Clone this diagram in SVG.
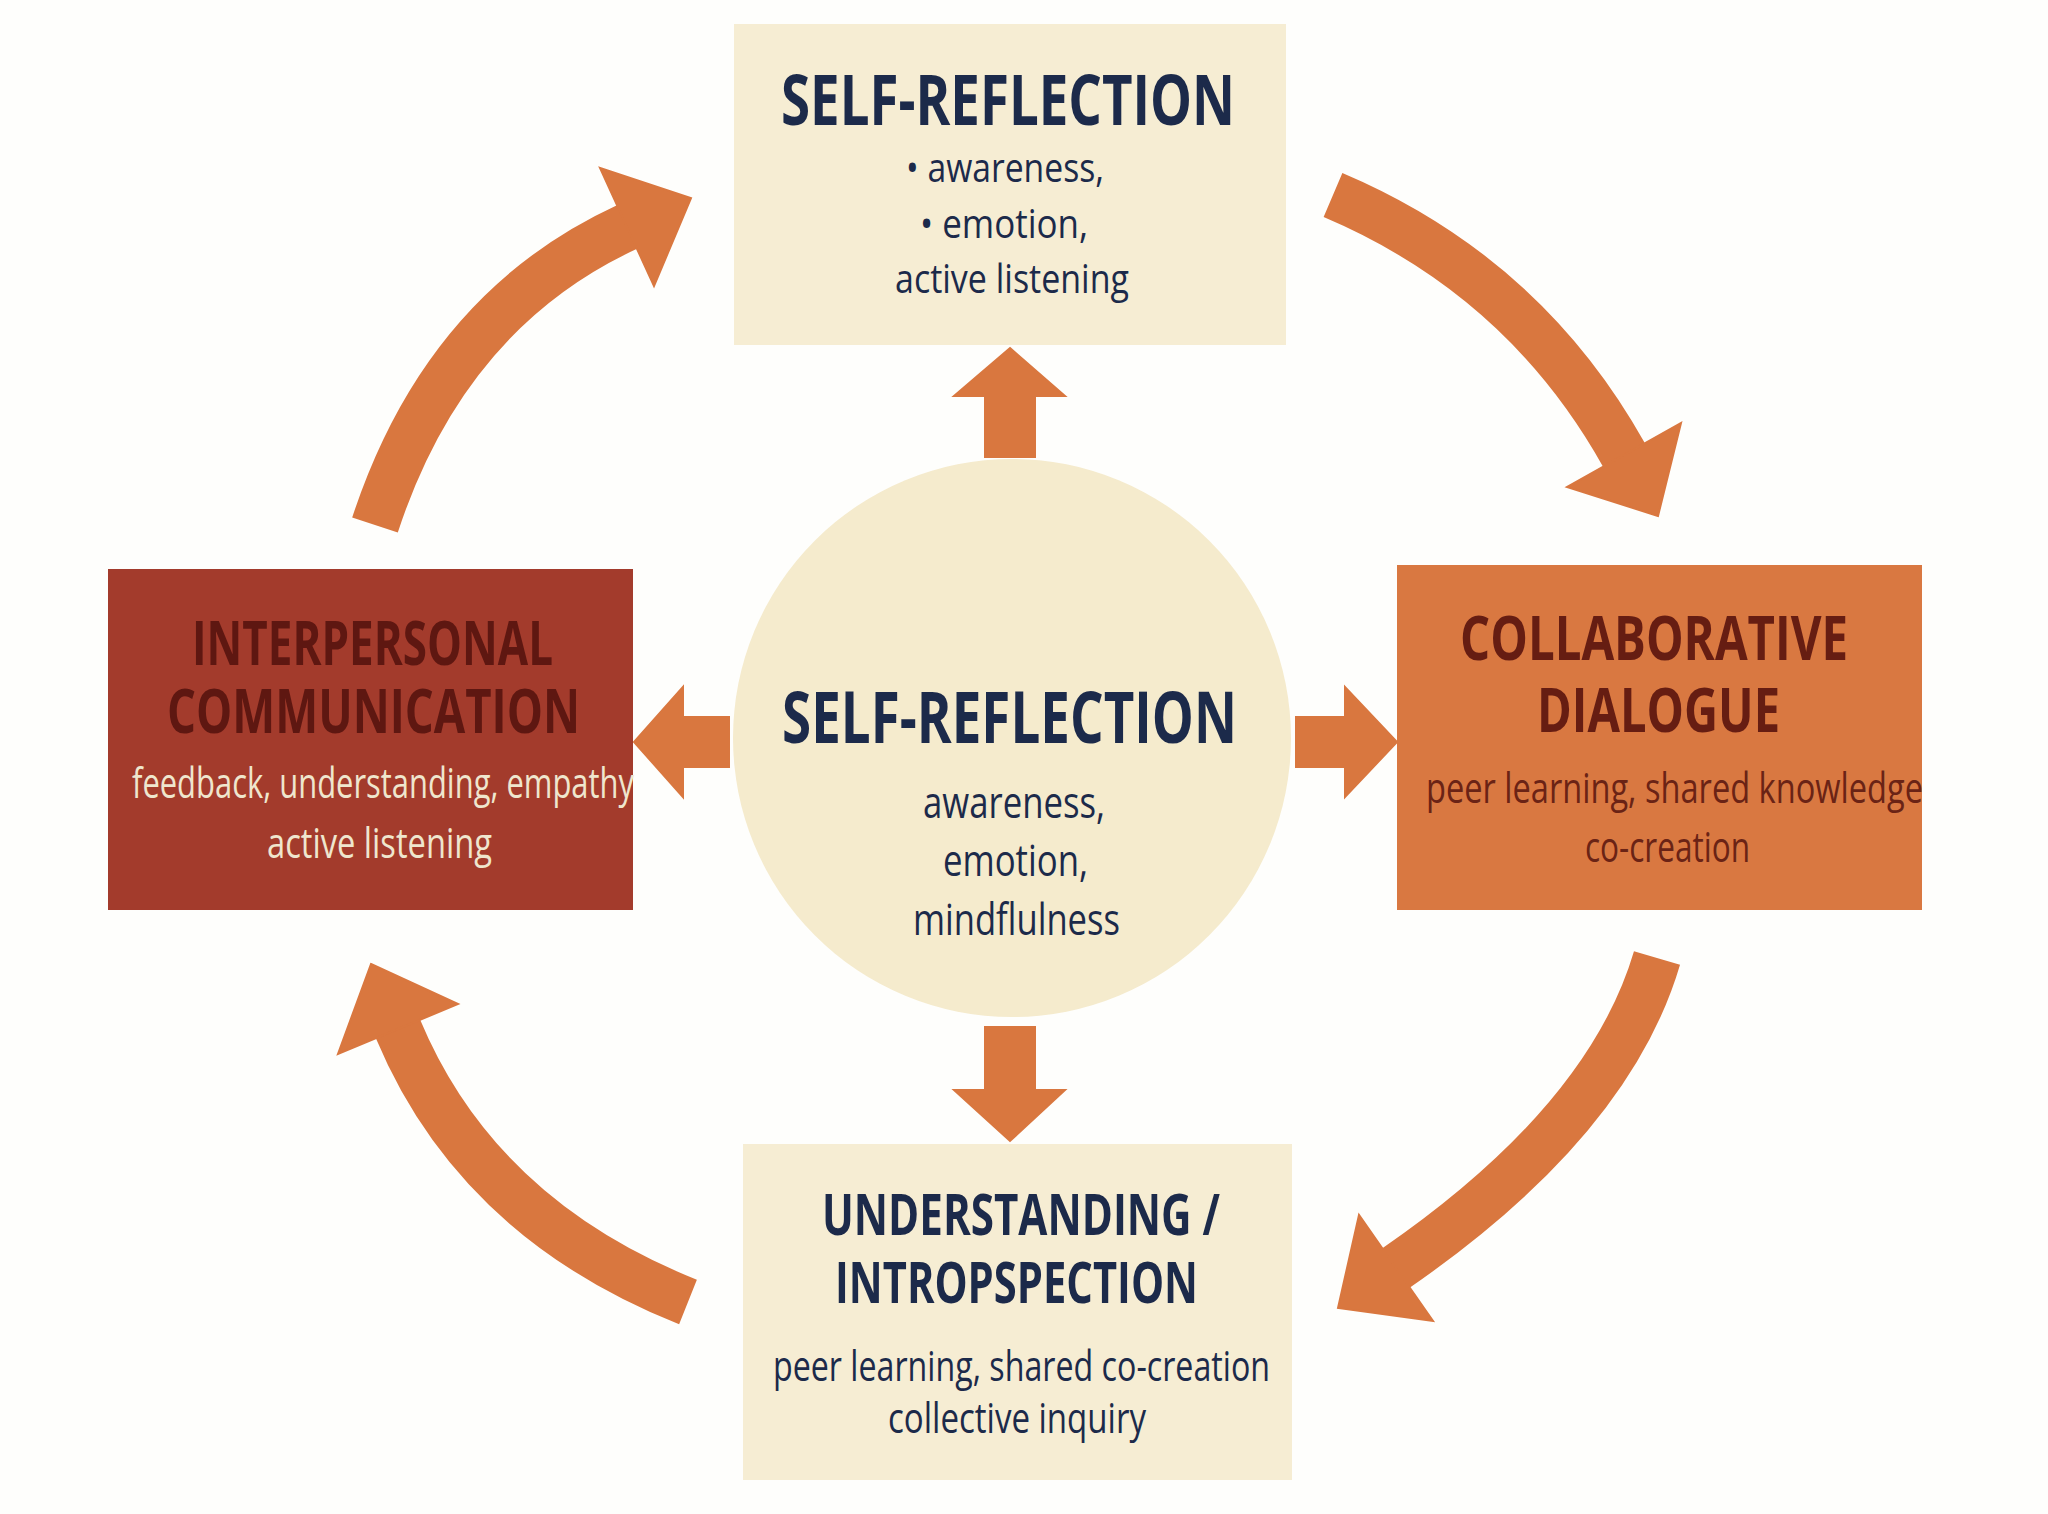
<svg xmlns="http://www.w3.org/2000/svg" width="2048" height="1514" viewBox="0 0 2048 1514">
  <style>
    .bg { fill: #FEFEFC; }
    .cream { fill: #F6EDD3; }
    .circ { fill: #F5EBCD; }
    .red { fill: #A33B2C; }
    .orange { fill: #D97841; }
    .arrowfill { fill: #D9773F; stroke: #D9773F; stroke-width: 2; stroke-linejoin: miter; }
    .arrowline { fill: none; stroke: #D9773F; stroke-width: 48; stroke-linecap: butt; }
    .t { font-family: "Open Sans", "Noto Sans", "Liberation Sans", sans-serif; }
    .title { font-weight: 700; }
    .sub { font-weight: 400; }
    .navy { fill: #1C2A4A; }
    .maroon { fill: #5E1711; }
    .maroon2 { fill: #661D12; }
    .lightsub { fill: #EFE6CE; }
    .darksub { fill: #6A2315; }
  </style>
  <rect class="bg" x="0" y="0" width="2048" height="1514"/>

  <g id="connectors">
    <!-- straight arrows from center -->
    <polygon class="arrowfill" points="1010,348 1065,396 1035,396 1035,457 985,457 985,396 954,396"/>
    <polygon class="arrowfill" points="985,1027 1035,1027 1035,1090 1065,1090 1010,1141 954,1090 985,1090"/>
    <polygon class="arrowfill" points="729,717 729,767 683,767 683,797 634,742 683,687 683,717"/>
    <polygon class="arrowfill" points="1296,717 1345,717 1345,687 1397,742 1345,797 1345,767 1296,767"/>
    <!-- curved cycle arrows -->
    <path class="arrowline" d="M 375 525 Q 445 311 627 227"/>
    <polygon class="arrowfill" points="691,198 654,286 600,168"/>
    <path class="arrowline" d="M 1333 195 Q 1524 276 1624 455"/>
    <polygon class="arrowfill" points="1658,516 1567,487 1681,423"/>
    <path class="arrowline" d="M 1657 958 Q 1609 1121 1396 1268"/>
    <polygon class="arrowfill" points="1338,1308 1359,1215 1433,1321"/>
    <path class="arrowline" d="M 688 1302 Q 477 1218 398 1029"/>
    <polygon class="arrowfill" points="371,964 458,1004 338,1054"/>
  </g>

  <g id="node-top">
    <rect class="cream" x="734" y="24" width="552" height="321"/>
    <text class="t title navy" x="781" y="125" font-size="70" textLength="454" lengthAdjust="spacingAndGlyphs">SELF-REFLECTION</text>
    <text class="t sub navy" x="906" y="182" font-size="40" textLength="198" lengthAdjust="spacingAndGlyphs">• awareness,</text>
    <text class="t sub navy" x="920" y="238" font-size="40" textLength="168" lengthAdjust="spacingAndGlyphs">• emotion,</text>
    <text class="t sub navy" x="895" y="293" font-size="40" textLength="234" lengthAdjust="spacingAndGlyphs">active listening</text>
  </g>

  <g id="node-center">
    <circle class="circ" cx="1012" cy="738" r="279"/>
    <text class="t title navy" x="782" y="743" font-size="71" textLength="455" lengthAdjust="spacingAndGlyphs">SELF-REFLECTION</text>
    <text class="t sub navy" x="923" y="818" font-size="44" textLength="182" lengthAdjust="spacingAndGlyphs">awareness,</text>
    <text class="t sub navy" x="943" y="876" font-size="44" textLength="145" lengthAdjust="spacingAndGlyphs">emotion,</text>
    <text class="t sub navy" x="913" y="935" font-size="44" textLength="207" lengthAdjust="spacingAndGlyphs">mindflulness</text>
  </g>

  <g id="node-left">
    <rect class="red" x="108" y="569" width="525" height="341"/>
    <text class="t title maroon" x="192" y="665" font-size="61" textLength="361" lengthAdjust="spacingAndGlyphs">INTERPERSONAL</text>
    <text class="t title maroon" x="167" y="733" font-size="61" textLength="413" lengthAdjust="spacingAndGlyphs">COMMUNICATION</text>
    <text class="t sub lightsub" x="132" y="798" font-size="42" textLength="502" lengthAdjust="spacingAndGlyphs">feedback, understanding, empathy</text>
    <text class="t sub lightsub" x="267" y="858" font-size="42" textLength="225" lengthAdjust="spacingAndGlyphs">active listening</text>
  </g>

  <g id="node-right">
    <rect class="orange" x="1397" y="565" width="525" height="345"/>
    <text class="t title maroon2" x="1460" y="660" font-size="61" textLength="388" lengthAdjust="spacingAndGlyphs">COLLABORATIVE</text>
    <text class="t title maroon2" x="1537" y="732" font-size="61" textLength="243" lengthAdjust="spacingAndGlyphs">DIALOGUE</text>
    <text class="t sub darksub" x="1426" y="803" font-size="42" textLength="497" lengthAdjust="spacingAndGlyphs">peer learning, shared knowledge</text>
    <text class="t sub darksub" x="1585" y="862" font-size="42" textLength="165" lengthAdjust="spacingAndGlyphs">co-creation</text>
  </g>

  <g id="node-bottom">
    <rect class="cream" x="743" y="1144" width="549" height="336"/>
    <text class="t title navy" x="822" y="1235" font-size="58" textLength="398" lengthAdjust="spacingAndGlyphs">UNDERSTANDING /</text>
    <text class="t title navy" x="835" y="1303" font-size="58" textLength="363" lengthAdjust="spacingAndGlyphs">INTROPSPECTION</text>
    <text class="t sub navy" x="773" y="1381" font-size="42" textLength="497" lengthAdjust="spacingAndGlyphs">peer learning, shared co-creation</text>
    <text class="t sub navy" x="888" y="1433" font-size="42" textLength="258" lengthAdjust="spacingAndGlyphs">collective inquiry</text>
  </g>
</svg>
